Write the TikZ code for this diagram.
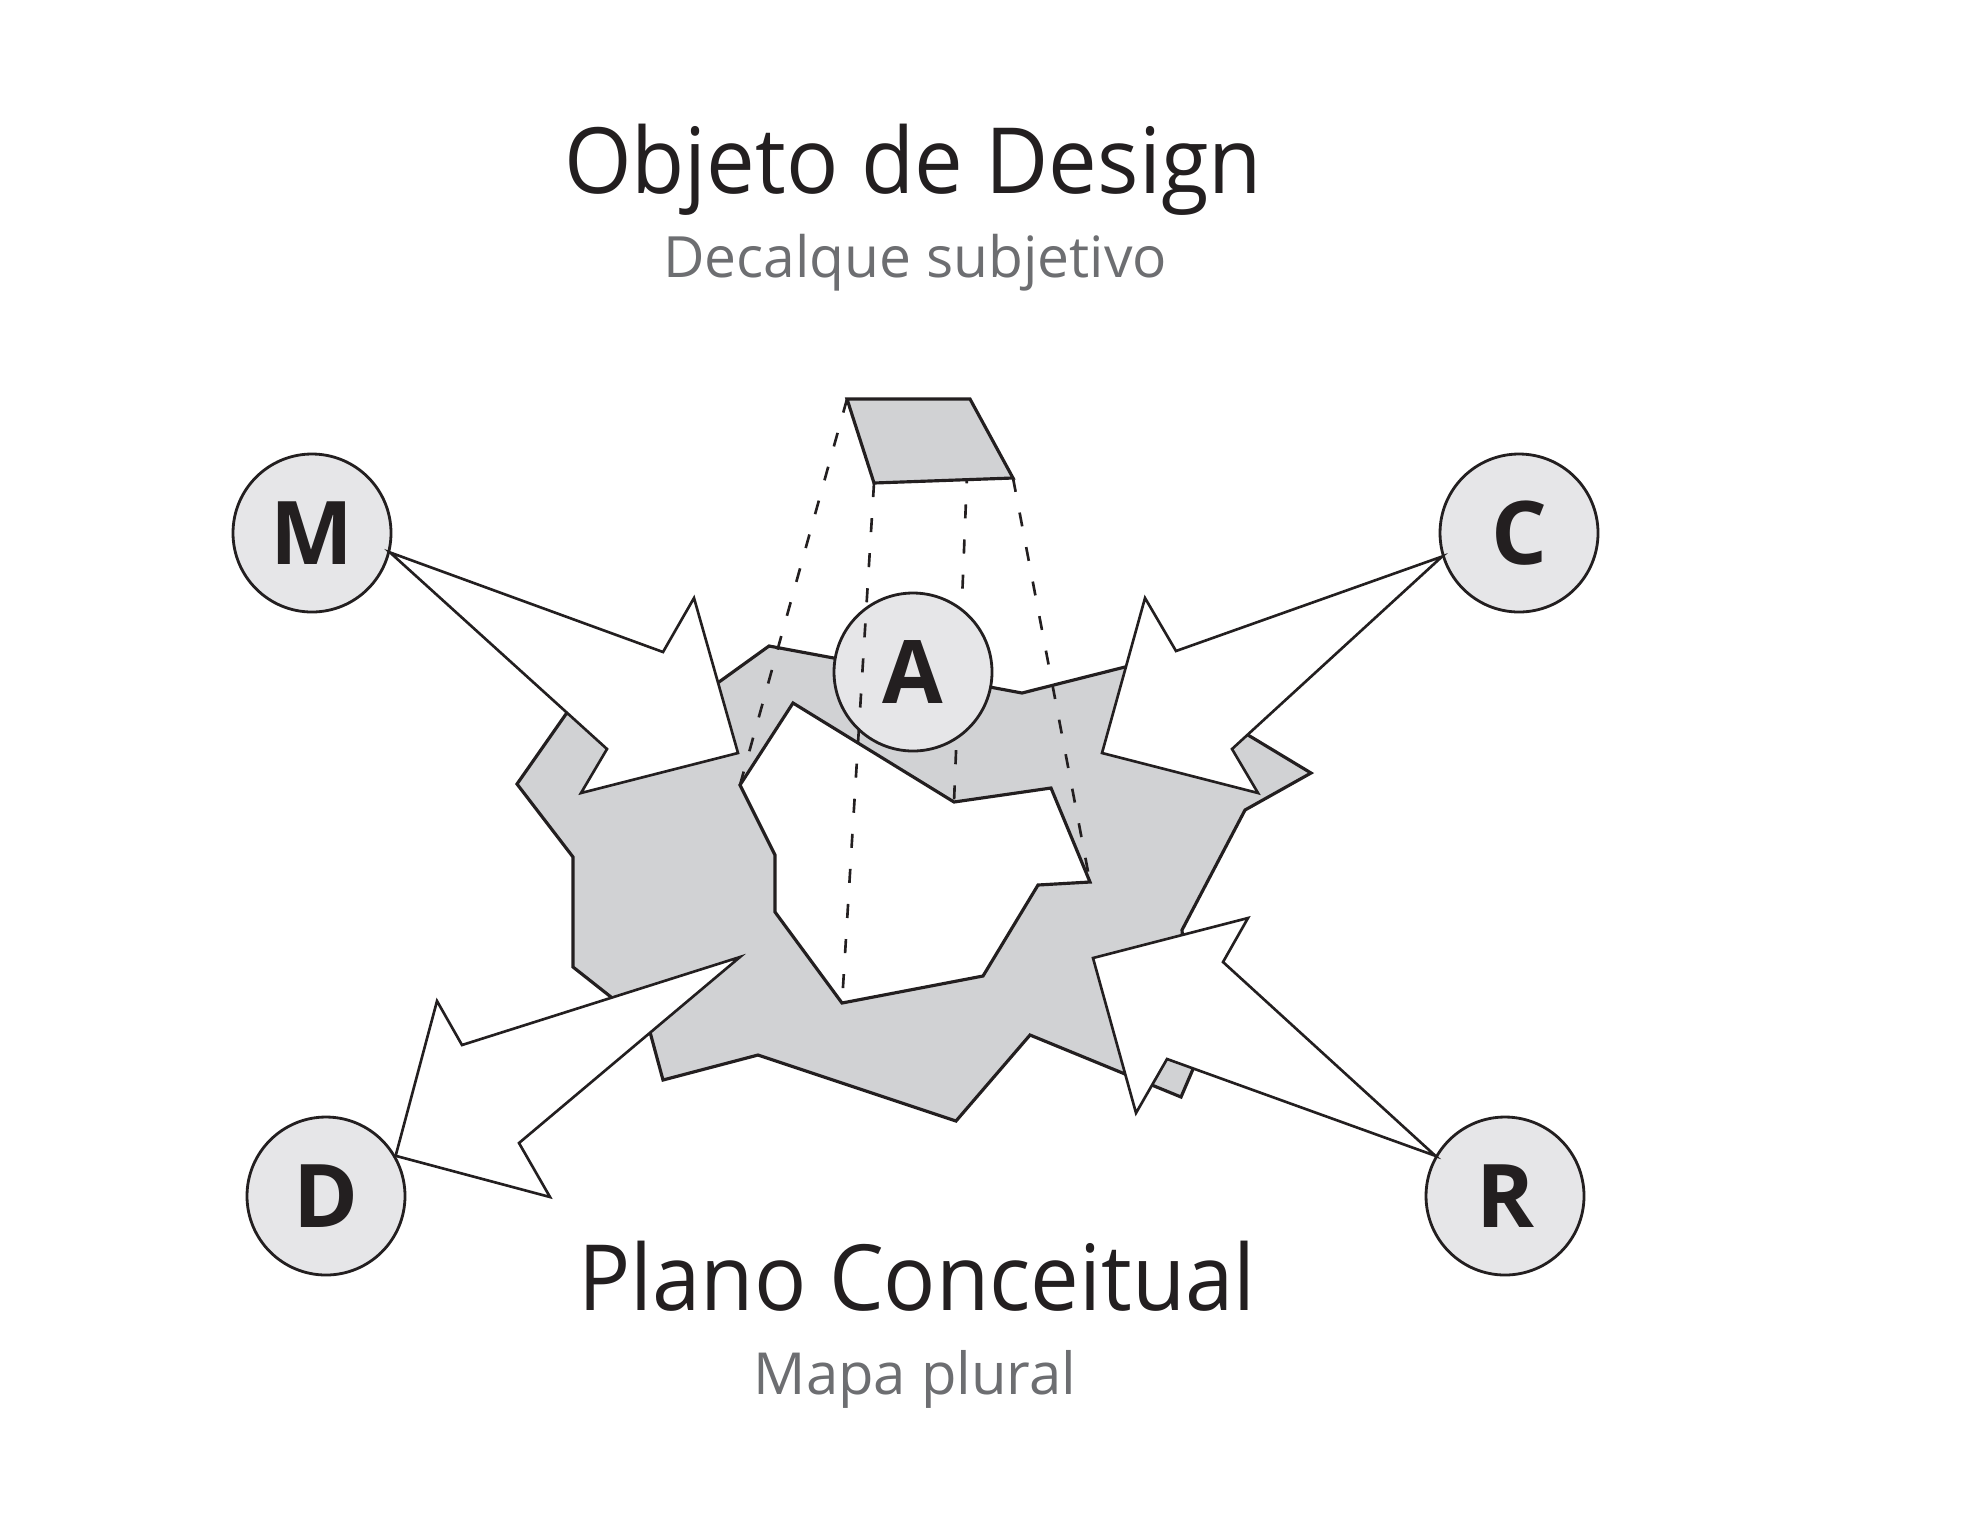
\documentclass[tikz,border=0pt]{standalone}
\usepackage{fontspec}
\setmainfont{Open Sans}
\newfontfamily\titulofonte[FakeStretch=0.95]{Open Sans}
\usepackage{xcolor}
\usepackage{tikz}

\definecolor{cinzaplano}{HTML}{D1D2D4}
\definecolor{cinzaletra}{HTML}{E6E6E8}
\definecolor{traco}{HTML}{231F20}
\definecolor{cinzatexto}{HTML}{6D6E71}

\begin{document}
\begin{tikzpicture}[x=0.1mm,y=-0.1mm,every node/.style={align=center,text=traco},
    letra/.style={shape=circle,draw=traco,line width=0.8pt,fill=cinzaletra,minimum size=1.58cm,inner sep=0pt,font=\fontsize{25}{25}\selectfont\bfseries},
    mancha/.style={draw=traco,line width=0.9pt,line join=miter},
    seta/.style={draw=traco,fill=white,line width=0.75pt,line join=miter},
    projecao/.style={draw=traco,line width=0.75pt,dash pattern=on 4pt off 6pt}]
    \useasboundingbox (0,0) rectangle (1962,1528);

    % titulos
    \node[anchor=base,font=\titulofonte\fontsize{26}{30}\selectfont] (objeto) at (913,193) {Objeto de Design};
    \node[anchor=base,text=cinzatexto,font=\fontsize{16.2}{20}\selectfont] (decalque) at (915,277) {Decalque subjetivo};
    \node[anchor=base,font=\titulofonte\fontsize{26}{30}\selectfont] (plano) at (917,1310) {Plano Conceitual};
    \node[anchor=base,text=cinzatexto,font=\fontsize{16.5}{20}\selectfont] (mapa) at (915,1394) {Mapa plural};

    % plano conceitual
    \draw[mancha,fill=cinzaplano] (769,646) -- (1022,693) -- (1125,667) -- (1248,735) -- (1311,773)
        -- (1245,810) -- (1182,930) -- (1193,1069) -- (1181,1097) -- (1030,1035) -- (956,1121)
        -- (758,1055) -- (663,1080) -- (650,1032) -- (611,997) -- (573,967) -- (573,857)
        -- (517,784) -- (566,714) -- (719,682) -- cycle;
    \draw[mancha,fill=white] (793,703) coordinate (i1) -- (954,802) coordinate (i2) -- (1051,788) coordinate (i3)
        -- (1090,882) coordinate (i4) -- (1038,885) coordinate (i5) -- (983,976) coordinate (i6)
        -- (842,1003) coordinate (i7) -- (775,912) coordinate (i8) -- (775,855) coordinate (i9)
        -- (740,785) coordinate (i10) -- cycle;

    % decalque
    \coordinate (p1) at (847,399);
    \coordinate (p2) at (970,399);
    \coordinate (p3) at (1013,478);
    \coordinate (p4) at (874,483);
    \draw[projecao] (p1) -- (i10);
    \draw[projecao] (p2) -- (i2);
    \draw[projecao] (p3) -- (i4);
    \draw[mancha,fill=cinzaplano] (p1) -- (p2) -- (p3) -- (p4) -- cycle;

    % letras
    \node[letra] (M) at (312,533) {M};
    \node[letra] (C) at (1519,533) {C};
    \node[letra] (D) at (326,1196) {D};
    \node[letra] (R) at (1505,1196) {R};
    \node[letra] (A) at (913,672) {A};
    \draw[projecao] (p4) -- (i7);

    % setas
    \draw[seta] (M.-14) -- (663,652) -- (694,598) -- (738,753) -- (581,793) -- (607,749) -- cycle;
    \draw[seta] (C.197) -- (1176,651) -- (1145,598) -- (1102,753) -- (1258,793) -- (1232,749) -- cycle;
    \draw[seta] (740,957) -- (462,1045) -- (437,1001) -- (D.30) -- (550,1197) -- (519,1143) -- cycle;
    \draw[seta] (R.150) -- (1223,962) -- (1248,918) -- (1093,958) -- (1136,1113) -- (1167,1059) -- cycle;
\end{tikzpicture}
\end{document}
